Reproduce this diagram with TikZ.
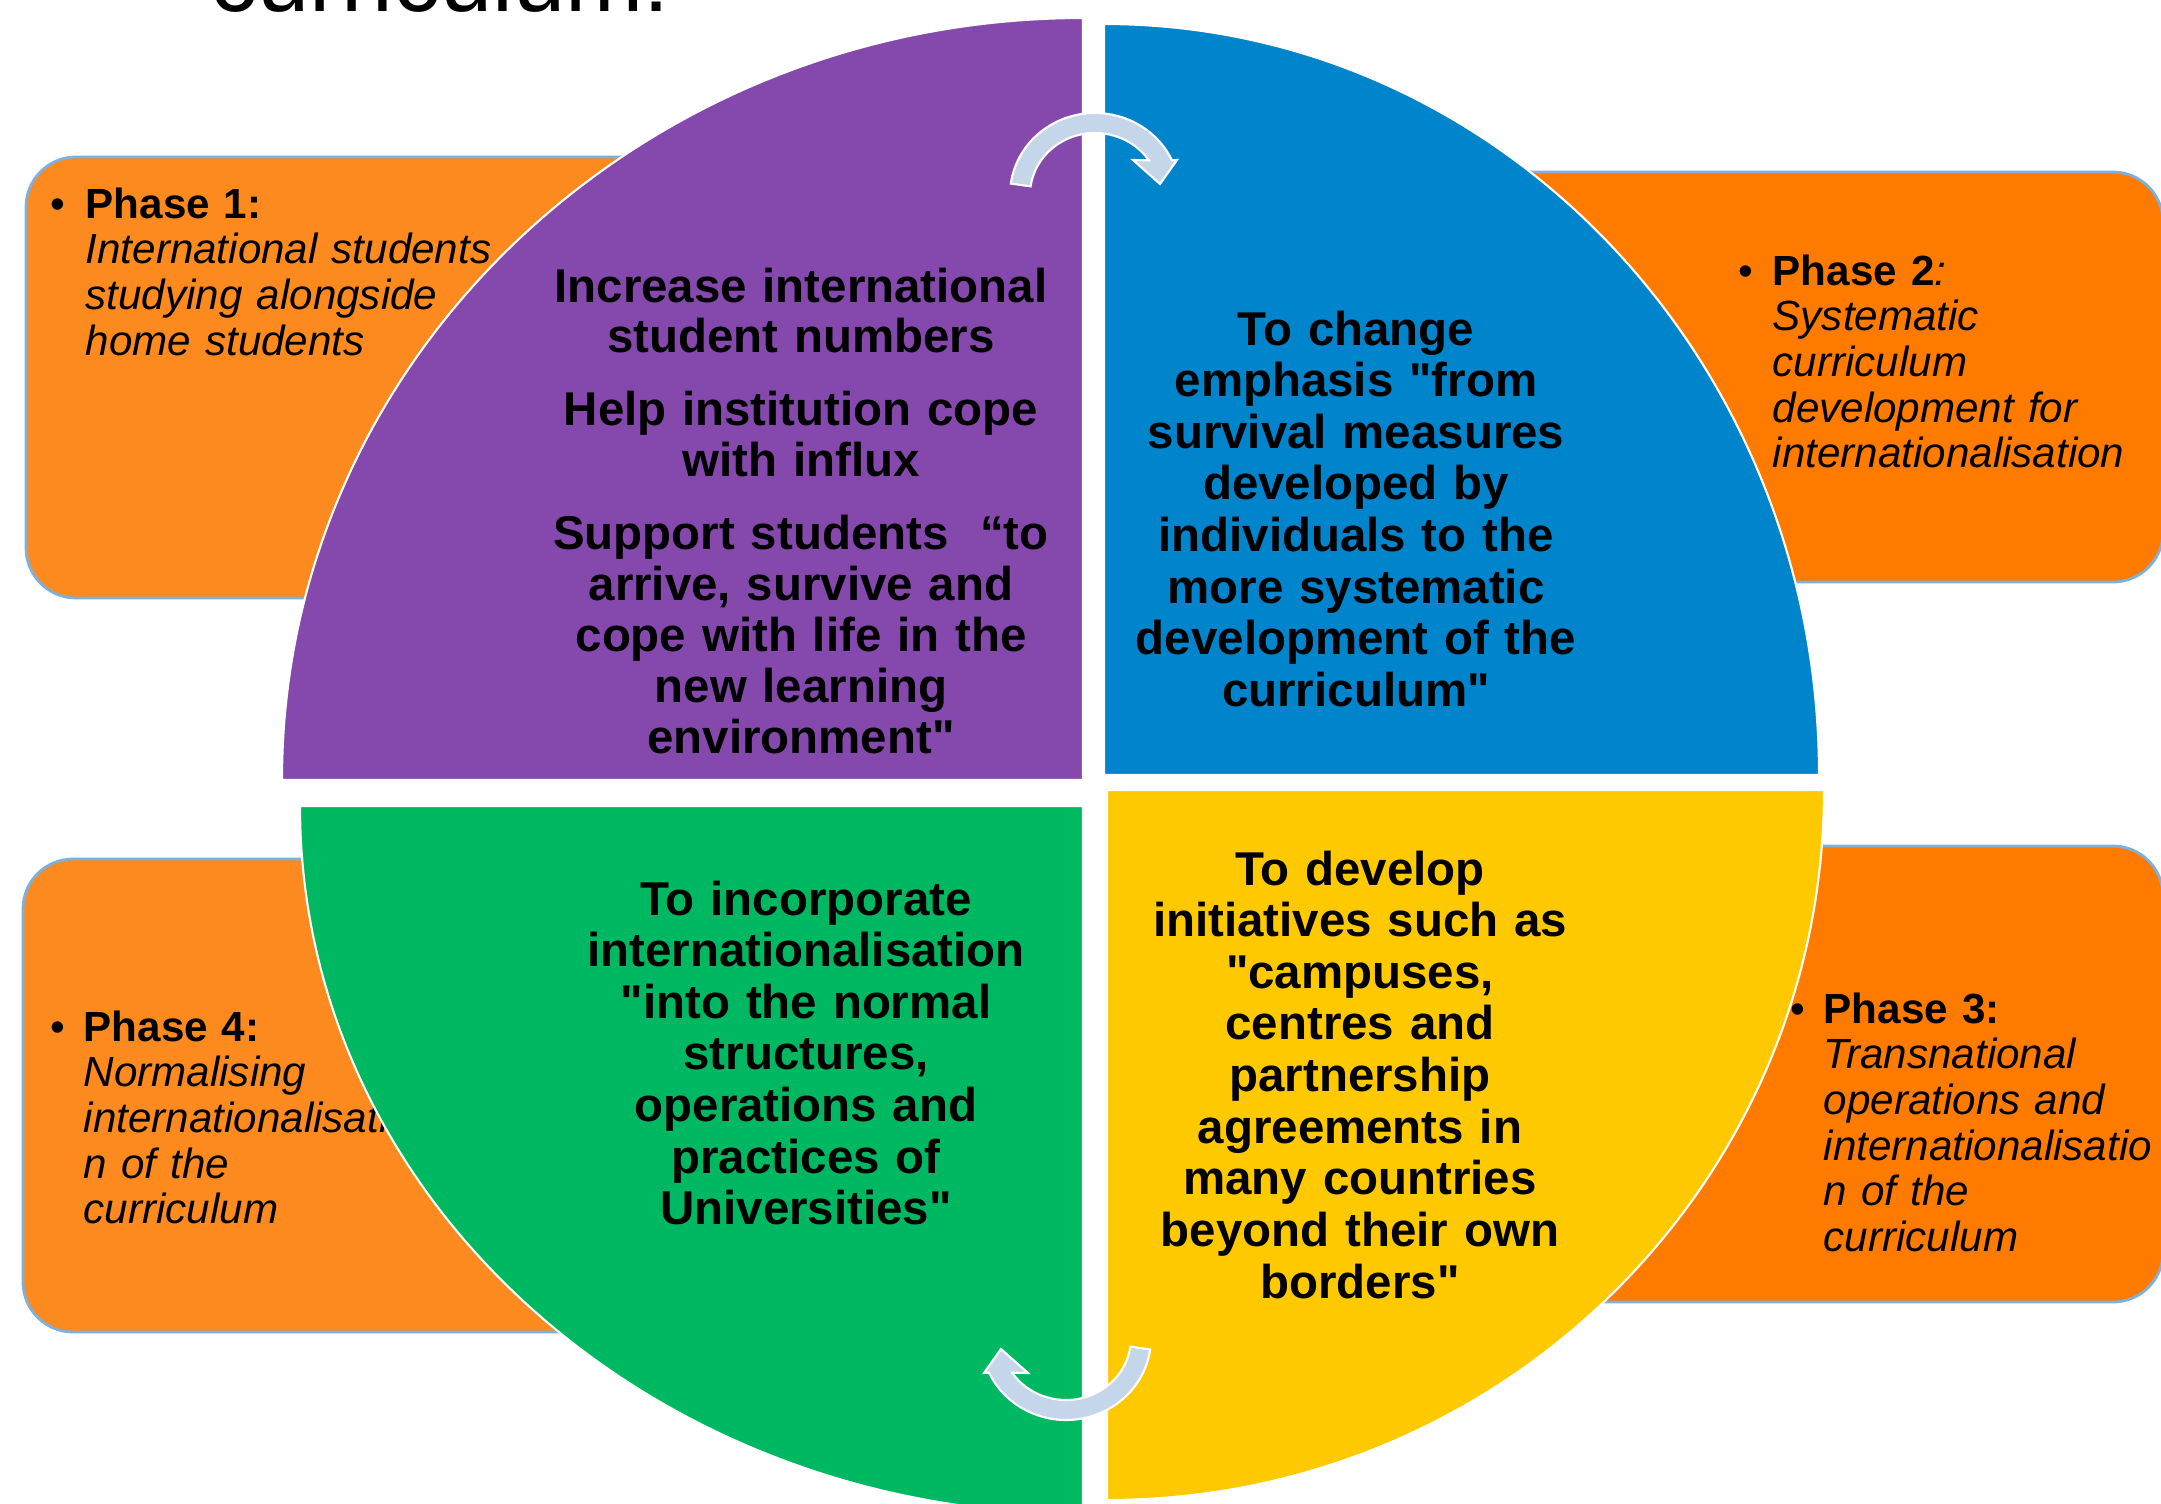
\documentclass[tikz,border=0pt]{standalone}
\usepackage{fontspec}
\setmainfont{Liberation Sans}

\definecolor{quadpurple}{HTML}{8549AD}
\definecolor{quadblue}{HTML}{0084CC}
\definecolor{quadgreen}{HTML}{00B862}
\definecolor{quadyellow}{HTML}{FFC900}
\definecolor{boxlight}{HTML}{FD8A1E}
\definecolor{boxdeep}{HTML}{FF7B00}
\definecolor{boxline}{HTML}{7EB0DA}
\definecolor{arrowfill}{HTML}{C5D5EA}

\newcommand{\dq}{\textquotedbl}

\begin{document}
\begin{tikzpicture}[
    phasebox/.style={draw=boxline,line width=0.8pt,rounded corners=0.5cm},
    quad/.style={draw=white,line width=0.6pt},
    quadtext/.style={text width=6cm,align=center,anchor=base,inner sep=0pt,
        font=\fontsize{13.5}{14.7}\selectfont\bfseries},
    phasetext/.style={text width=6cm,align=left,anchor=base west,inner sep=0pt,
        font=\fontsize{12}{13}\selectfont},
    phasedot/.style={anchor=base west,inner sep=0pt,font=\fontsize{12}{13}\selectfont},
    turnarrow/.pic={
        \path [fill=arrowfill,draw=white,line width=0.6pt]
            (172:0.85 and 0.82) arc[start angle=172,end angle=25,x radius=0.85,y radius=0.82]
            -- (0.82,0.35) -- (0.65,0.11) -- (0.38,0.35)
            -- (34:0.65 and 0.62) arc[start angle=34,end angle=172,x radius=0.65,y radius=0.62]
            -- cycle;
    }
]

\useasboundingbox (0,0) rectangle (21.61,-15.04);
\clip (0,0) rectangle (21.61,-15.04);

% heading, cut off at the top
\node (head) [anchor=base west,inner sep=0pt,font=\fontsize{26.7}{30}\selectfont]
    at (2.10,-0.12) {curriculum:};

% phase boxes behind the circle
\path [phasebox,fill=boxlight] (0.26,-1.57) rectangle (7.00,-5.98);
\path [phasebox,fill=boxdeep] (14.00,-1.72) rectangle (21.63,-5.82);
\path [phasebox,fill=boxdeep] (14.00,-8.46) rectangle (21.63,-13.02);
\path [phasebox,fill=boxlight] (0.23,-8.59) rectangle (7.00,-13.32);

\node (d1) [phasedot] at (0.50,-2.18) {\textbullet};
\node (p1) [phasetext] at (0.85,-2.18)
    {\textbf{Phase 1:}\\ \itshape International students\\studying alongside\\home students};

\node (d2) [phasedot] at (17.38,-2.85) {\textbullet};
\node (p2) [phasetext] at (17.72,-2.85)
    {\textbf{Phase 2}\textit{:}\\ \itshape Systematic\\curriculum\\development for\\internationalisation};

\node (d3) [phasedot] at (17.90,-10.23) {\textbullet};
\node (p3) [phasetext] at (18.23,-10.23)
    {\textbf{Phase 3:}\\ \itshape Transnational\\operations and\\internationalisatio\\n of the\\curriculum};

\node (d4) [phasedot] at (0.50,-10.41) {\textbullet};
\node (p4) [phasetext] at (0.83,-10.41)
    {\textbf{Phase 4:}\\ \itshape Normalising\\internationalisatio\\n of the\\curriculum};

% the four quarters
\path [quad,fill=quadpurple] (10.83,-7.80) -- (2.82,-7.80)
    arc[start angle=180,end angle=90,x radius=8.01,y radius=7.62] -- cycle;
\path [quad,fill=quadblue] (11.04,-7.75) -- (11.04,-0.24)
    arc[start angle=90,end angle=0,x radius=7.15,y radius=7.51] -- cycle;
\path [quad,fill=quadgreen] (10.83,-8.06) -- (3.00,-8.06)
    arc[start angle=180,end angle=270,x radius=7.83,y radius=7.08] -- cycle;
\path [quad,fill=quadyellow] (11.07,-7.90) -- (18.24,-7.90)
    arc[start angle=0,end angle=-90,x radius=7.17,y radius=7.10] -- cycle;

\node (q1) [quadtext,font=\fontsize{13.5}{14.5}\selectfont\bfseries] at (8.01,-3.02)
    {Increase international\\student numbers\\[6.2pt]
     Help institution cope\\with influx\\[6.2pt]
     Support students\ \ ``to\\arrive, survive and\\cope with life in the\\new learning\\environment\dq};

\node (q2) [quadtext] at (13.56,-3.45)
    {To change\\emphasis \dq from\\survival measures\\developed by\\individuals to the\\more systematic\\development of the\\curriculum\dq};

\node (q3) [quadtext] at (13.60,-8.85)
    {To develop\\initiatives such as\\\dq campuses,\\centres and\\partnership\\agreements in\\many countries\\beyond their own\\borders\dq};

\node (q4) [quadtext] at (8.06,-9.15)
    {To incorporate\\internationalisation\\\dq into the normal\\structures,\\operations and\\practices of\\Universities\dq};

% turning arrows across the gaps
\pic at (10.95,-1.95) {turnarrow};
\pic [rotate=180] at (10.66,-13.38) {turnarrow};

\end{tikzpicture}
\end{document}
